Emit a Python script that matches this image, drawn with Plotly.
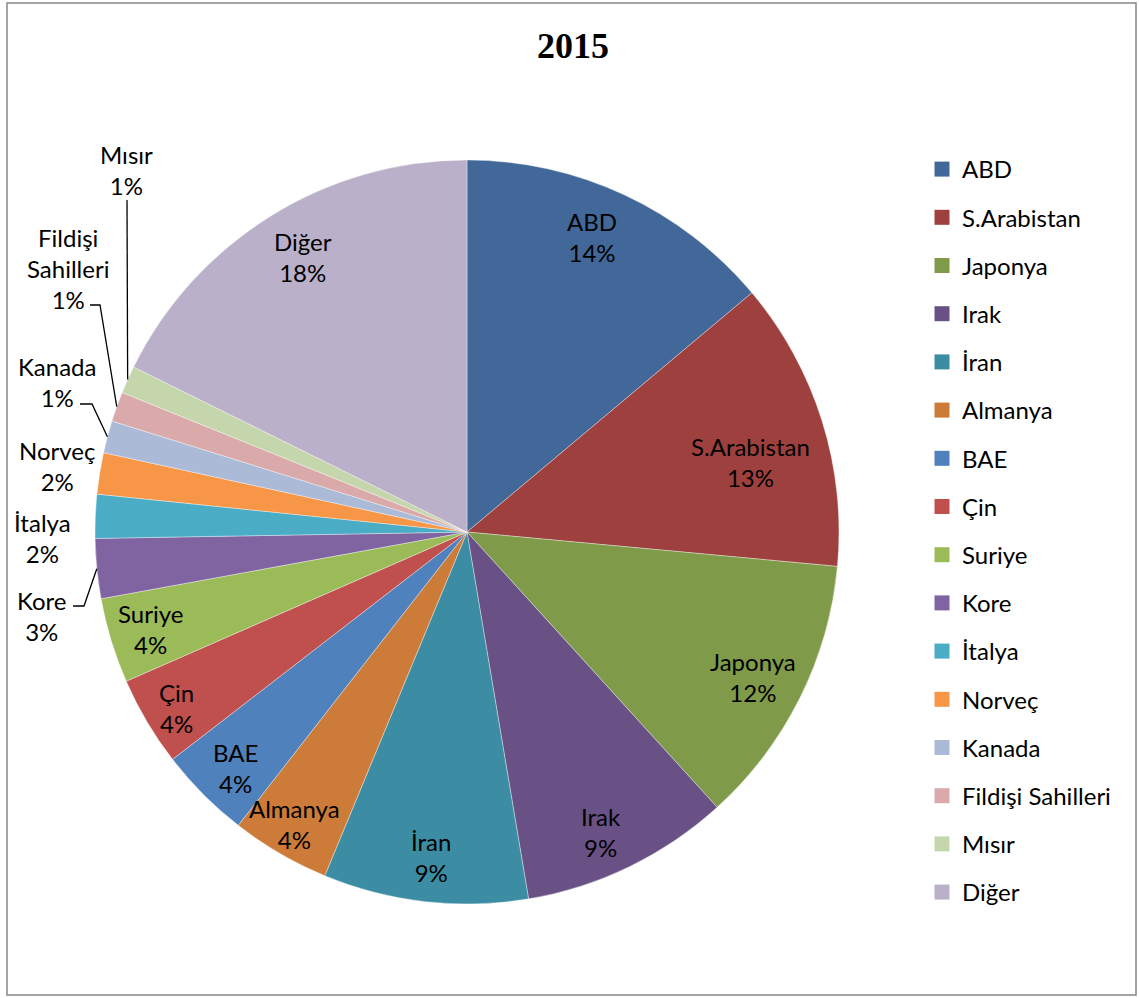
import math
import plotly.graph_objects as go

# Export shares by destination country, 2015
countries = ["ABD", "S.Arabistan", "Japonya", "Irak", "İran", "Almanya", "BAE", "Çin",
             "Suriye", "Kore", "İtalya", "Norveç", "Kanada", "Fildişi Sahilleri", "Mısır", "Diğer"]
shares = [13.9, 12.6, 11.8, 9.1, 8.9, 4.3, 4.0, 3.9, 3.7, 2.6, 1.9, 1.8, 1.4, 1.3, 1.2, 17.7]
colors = ["#426899", "#9E413E", "#7F9A48", "#695185", "#3C8DA3", "#CC7B38", "#4F81BD", "#C0504D",
          "#9BBB59", "#8064A2", "#4BACC6", "#F79646", "#AABAD7", "#D9AAA9", "#C6D6AC", "#BAB0C9"]

W, H = 1139, 998
CX, CY, R = 467, 532, 372          # pie centre / radius in pixels
FONT = "Lato"
FS = 24

# Inside labels sit at 0.87 R on the slice bisector, with small pixel nudges
nudge = {
    "ABD": (-12, -2), "S.Arabistan": (-25, 27), "Japonya": (-4, 0), "Irak": (-7, 9),
    "İran": (0, 3), "Almanya": (-10, 12), "BAE": (-2, 8), "Çin": (-12, 11),
    "Suriye": (-7, 2), "Diğer": (7, 0),
}

# Labels drawn outside the pie: text centre (px), leader line start (px) or None
outside = {
    "Kore":              ((42, 616), [(73, 606), (84, 606)]),
    "İtalya":            ((42, 538), None),
    "Norveç":            ((57, 466), None),
    "Kanada":            ((57, 382), [(80, 404), (92, 404)]),
    "Fildişi Sahilleri": ((68, 268), [(90, 305), (100, 305)]),
    "Mısır":             ((127, 170), [(127, 200)]),
}
outside_text = {"Fildişi Sahilleri": "Fildişi<br>Sahilleri"}


def px(x, y):
    return x / W, 1 - y / H


fig = go.Figure()
fig.add_trace(go.Pie(
    labels=countries, values=shares, sort=False, direction="clockwise", rotation=0,
    marker=dict(colors=colors, line=dict(color="rgba(255,255,255,0.6)", width=0.6)),
    textinfo="none", hoverinfo="label+percent", showlegend=False,
    domain=dict(x=[(CX - R) / W, (CX + R) / W], y=[1 - (CY + R) / H, 1 - (CY - R) / H]),
))

# Legend entries (one group each so they can be spaced apart)
for name, col in zip(countries, colors):
    fig.add_trace(go.Scatter(
        x=[None], y=[None], mode="markers", name=name, legendgroup=name,
        marker=dict(symbol="square", size=15, color=col), hoverinfo="skip",
    ))

total = sum(shares)
annotations = []
shapes = []
cum = 0.0
for name, v in zip(countries, shares):
    mid = (cum + v / 2) / total * 2 * math.pi
    cum += v
    pct = f"{round(v / total * 100)}%"
    font = dict(family=FONT, size=FS, color="#000")
    if name in outside:
        (tx, ty), line = outside[name]
        txt = outside_text.get(name, name) + "<br>" + pct
        x, y = px(tx, ty)
        annotations.append(dict(x=x, y=y, xref="paper", yref="paper", text=txt, showarrow=False,
                                xanchor="center", yanchor="middle", align="center", font=font))
        if line:
            ex = CX + R * math.sin(mid)
            ey = CY - R * math.cos(mid)
            pts = [px(a, b) for a, b in line] + [px(ex, ey)]
            path = "M " + " L ".join(f"{a},{b}" for a, b in pts)
            shapes.append(dict(type="path", xref="paper", yref="paper", path=path,
                               line=dict(color="#000", width=1.3)))
    else:
        rr = R * 0.87
        dx, dy = nudge.get(name, (0, 0))
        lx = CX + rr * math.sin(mid) + dx
        ly = CY - rr * math.cos(mid) + dy
        x, y = px(lx, ly)
        annotations.append(dict(x=x, y=y, xref="paper", yref="paper", text=f"{name}<br>{pct}",
                                showarrow=False, xanchor="center", yanchor="middle", align="center",
                                font=font))

# Chart frame
shapes.append(dict(type="rect", xref="paper", yref="paper", x0=7 / W, x1=1136 / W,
                   y0=1 - 995 / H, y1=1 - 3 / H, line=dict(color="#868686", width=1.5)))

fig.update_layout(
    width=W, height=H, margin=dict(l=0, r=0, t=0, b=0),
    paper_bgcolor="white", plot_bgcolor="white",
    title=dict(text="<b>2015</b>", x=573 / W, xanchor="center", y=1 - 45 / H, yanchor="middle",
               font=dict(family="Liberation Serif", size=36, color="#000")),
    xaxis=dict(visible=False), yaxis=dict(visible=False),
    legend=dict(x=922 / W, y=1 - 147 / H, xanchor="left", yanchor="top", tracegroupgap=14,
                font=dict(family=FONT, size=FS, color="#000"), bgcolor="rgba(0,0,0,0)"),
    annotations=annotations, shapes=shapes,
)

fig.write_html("out.html")
